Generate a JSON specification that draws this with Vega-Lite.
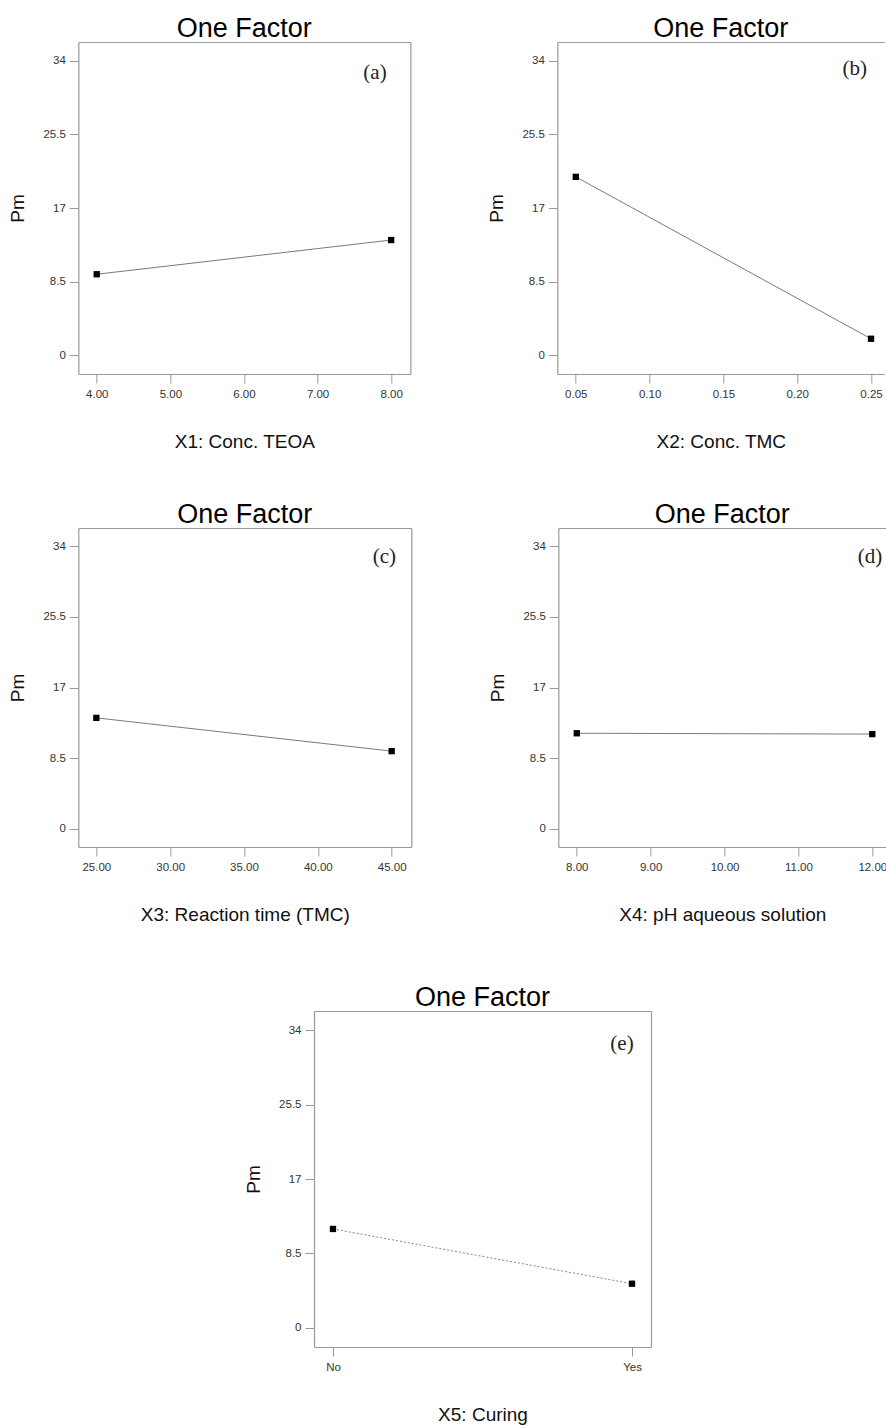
{
  "$schema": "https://vega.github.io/schema/vega-lite/v6.json",
  "background": "white",
  "padding": {"left": 8, "top": 15, "right": 0, "bottom": 0},
  "datasets": {
    "x1": [{"level": 4, "Pm": 9.35}, {"level": 8, "Pm": 13.3}],
    "x2": [{"level": 0.05, "Pm": 20.6}, {"level": 0.25, "Pm": 1.9}],
    "x3": [{"level": 25, "Pm": 13.35}, {"level": 45, "Pm": 9.35}],
    "x4": [{"level": 8, "Pm": 11.5}, {"level": 12, "Pm": 11.4}],
    "x5": [{"level": "No", "Pm": 11.3}, {"level": "Yes", "Pm": 5.05}]
  },
  "spacing": 59,
  "center": true,
  "vconcat": [
    {
      "spacing": 49,
      "vconcat": [
        {
          "spacing": 77,
          "hconcat": [
            {
              "title": "One Factor", "width": 332, "height": 332,
              "resolve": {"axis": {"x": "independent", "y": "independent"}},
              "layer": [
                {"data": {"name": "x1"}, "mark": {"type": "line", "color": "#7a7a7a", "strokeWidth": 1},
                 "encoding": {
                   "x": {"field": "level", "type": "quantitative", "scale": {"domain": [3.75, 8.26], "nice": false, "zero": false}, "axis": {"values": [4, 5, 6, 7, 8], "format": ".2f", "title": "X1: Conc. TEOA"}},
                   "y": {"field": "Pm", "type": "quantitative", "scale": {"domain": [-2.17, 36.17], "nice": false, "zero": false}, "axis": {"values": [0, 8.5, 17, 25.5, 34], "labelExpr": "'' + datum.value", "title": "Pm"}}}},
                {"data": {"name": "x1"}, "mark": {"type": "point", "shape": "square", "filled": true, "color": "#000", "size": 40, "opacity": 1},
                 "encoding": {
                   "x": {"field": "level", "type": "quantitative", "scale": {"domain": [3.75, 8.26], "nice": false, "zero": false}, "axis": null},
                   "y": {"field": "Pm", "type": "quantitative", "scale": {"domain": [-2.17, 36.17], "nice": false, "zero": false}, "axis": null}}},
                {"data": {"values": [{"panel": "(a)"}]}, "mark": {"type": "text", "font": "Liberation Serif", "fontSize": 21, "color": "#222", "baseline": "middle"},
                 "encoding": {
                   "x": {"datum": 7.78, "type": "quantitative", "scale": {"domain": [3.75, 8.26], "nice": false, "zero": false}, "axis": {"orient": "top", "labels": false, "ticks": false, "title": null}},
                   "y": {"datum": 32.6, "type": "quantitative", "scale": {"domain": [-2.17, 36.17], "nice": false, "zero": false}, "axis": {"orient": "right", "labels": false, "ticks": false, "title": null}},
                   "text": {"field": "panel"}}}
              ]
            },
            {
              "title": "One Factor", "width": 327, "height": 332,
              "resolve": {"axis": {"x": "independent", "y": "independent"}},
              "layer": [
                {"data": {"name": "x2"}, "mark": {"type": "line", "color": "#7a7a7a", "strokeWidth": 1},
                 "encoding": {
                   "x": {"field": "level", "type": "quantitative", "scale": {"domain": [0.0375, 0.259], "nice": false, "zero": false}, "axis": {"values": [0.05, 0.1, 0.15, 0.2, 0.25], "format": ".2f", "title": "X2: Conc. TMC"}},
                   "y": {"field": "Pm", "type": "quantitative", "scale": {"domain": [-2.17, 36.17], "nice": false, "zero": false}, "axis": {"values": [0, 8.5, 17, 25.5, 34], "labelExpr": "'' + datum.value", "title": "Pm"}}}},
                {"data": {"name": "x2"}, "mark": {"type": "point", "shape": "square", "filled": true, "color": "#000", "size": 40, "opacity": 1},
                 "encoding": {
                   "x": {"field": "level", "type": "quantitative", "scale": {"domain": [0.0375, 0.259], "nice": false, "zero": false}, "axis": null},
                   "y": {"field": "Pm", "type": "quantitative", "scale": {"domain": [-2.17, 36.17], "nice": false, "zero": false}, "axis": null}}},
                {"data": {"values": [{"panel": "(b)"}]}, "mark": {"type": "text", "font": "Liberation Serif", "fontSize": 21, "color": "#222", "baseline": "middle"},
                 "encoding": {
                   "x": {"datum": 0.239, "type": "quantitative", "scale": {"domain": [0.0375, 0.259], "nice": false, "zero": false}, "axis": {"orient": "top", "labels": false, "ticks": false, "title": null}},
                   "y": {"datum": 33.0, "type": "quantitative", "scale": {"domain": [-2.17, 36.17], "nice": false, "zero": false}, "axis": null},
                   "text": {"field": "panel"}}}
              ]
            }
          ]
        },
        {
          "spacing": 77,
          "hconcat": [
            {
              "title": "One Factor", "width": 333, "height": 319,
              "resolve": {"axis": {"x": "independent", "y": "independent"}},
              "layer": [
                {"data": {"name": "x3"}, "mark": {"type": "line", "color": "#7a7a7a", "strokeWidth": 1},
                 "encoding": {
                   "x": {"field": "level", "type": "quantitative", "scale": {"domain": [23.78, 46.33], "nice": false, "zero": false}, "axis": {"values": [25, 30, 35, 40, 45], "format": ".2f", "title": "X3: Reaction time (TMC)"}},
                   "y": {"field": "Pm", "type": "quantitative", "scale": {"domain": [-2.17, 36.17], "nice": false, "zero": false}, "axis": {"values": [0, 8.5, 17, 25.5, 34], "labelExpr": "'' + datum.value", "title": "Pm"}}}},
                {"data": {"name": "x3"}, "mark": {"type": "point", "shape": "square", "filled": true, "color": "#000", "size": 40, "opacity": 1},
                 "encoding": {
                   "x": {"field": "level", "type": "quantitative", "scale": {"domain": [23.78, 46.33], "nice": false, "zero": false}, "axis": null},
                   "y": {"field": "Pm", "type": "quantitative", "scale": {"domain": [-2.17, 36.17], "nice": false, "zero": false}, "axis": null}}},
                {"data": {"values": [{"panel": "(c)"}]}, "mark": {"type": "text", "font": "Liberation Serif", "fontSize": 21, "color": "#222", "baseline": "middle"},
                 "encoding": {
                   "x": {"datum": 44.5, "type": "quantitative", "scale": {"domain": [23.78, 46.33], "nice": false, "zero": false}, "axis": {"orient": "top", "labels": false, "ticks": false, "title": null}},
                   "y": {"datum": 32.7, "type": "quantitative", "scale": {"domain": [-2.17, 36.17], "nice": false, "zero": false}, "axis": {"orient": "right", "labels": false, "ticks": false, "title": null}},
                   "text": {"field": "panel"}}}
              ]
            },
            {
              "title": "One Factor", "width": 328, "height": 319,
              "resolve": {"axis": {"x": "independent", "y": "independent"}},
              "layer": [
                {"data": {"name": "x4"}, "mark": {"type": "line", "color": "#7a7a7a", "strokeWidth": 1},
                 "encoding": {
                   "x": {"field": "level", "type": "quantitative", "scale": {"domain": [7.75, 12.19], "nice": false, "zero": false}, "axis": {"values": [8, 9, 10, 11, 12], "format": ".2f", "title": "X4: pH aqueous solution"}},
                   "y": {"field": "Pm", "type": "quantitative", "scale": {"domain": [-2.17, 36.17], "nice": false, "zero": false}, "axis": {"values": [0, 8.5, 17, 25.5, 34], "labelExpr": "'' + datum.value", "title": "Pm"}}}},
                {"data": {"name": "x4"}, "mark": {"type": "point", "shape": "square", "filled": true, "color": "#000", "size": 40, "opacity": 1},
                 "encoding": {
                   "x": {"field": "level", "type": "quantitative", "scale": {"domain": [7.75, 12.19], "nice": false, "zero": false}, "axis": null},
                   "y": {"field": "Pm", "type": "quantitative", "scale": {"domain": [-2.17, 36.17], "nice": false, "zero": false}, "axis": null}}},
                {"data": {"values": [{"panel": "(d)"}]}, "mark": {"type": "text", "font": "Liberation Serif", "fontSize": 21, "color": "#222", "baseline": "middle"},
                 "encoding": {
                   "x": {"datum": 11.97, "type": "quantitative", "scale": {"domain": [7.75, 12.19], "nice": false, "zero": false}, "axis": {"orient": "top", "labels": false, "ticks": false, "title": null}},
                   "y": {"datum": 32.7, "type": "quantitative", "scale": {"domain": [-2.17, 36.17], "nice": false, "zero": false}, "axis": null},
                   "text": {"field": "panel"}}}
              ]
            }
          ]
        }
      ]
    },
    {
      "title": "One Factor", "width": 337, "height": 336,
      "resolve": {"axis": {"x": "independent", "y": "independent"}},
      "layer": [
        {"data": {"name": "x5"}, "mark": {"type": "line", "color": "#888", "strokeWidth": 1, "strokeDash": [2, 2]},
         "encoding": {
           "x": {"field": "level", "type": "nominal", "scale": {"type": "point", "domain": ["No", "Yes"], "padding": 0.0635}, "axis": {"title": "X5: Curing"}},
           "y": {"field": "Pm", "type": "quantitative", "scale": {"domain": [-2.17, 36.17], "nice": false, "zero": false}, "axis": {"values": [0, 8.5, 17, 25.5, 34], "labelExpr": "'' + datum.value", "title": "Pm"}}}},
        {"data": {"name": "x5"}, "mark": {"type": "point", "shape": "square", "filled": true, "color": "#000", "size": 40, "opacity": 1},
         "encoding": {
           "x": {"field": "level", "type": "nominal", "scale": {"type": "point", "domain": ["No", "Yes"], "padding": 0.0635}, "axis": null},
           "y": {"field": "Pm", "type": "quantitative", "scale": {"domain": [-2.17, 36.17], "nice": false, "zero": false}, "axis": null}}},
        {"data": {"values": [{"panel": "(e)"}]}, "mark": {"type": "text", "font": "Liberation Serif", "fontSize": 21, "color": "#222", "baseline": "middle", "dx": -10},
         "encoding": {
           "x": {"datum": "Yes", "type": "nominal", "scale": {"type": "point", "domain": ["No", "Yes"], "padding": 0.0635}, "axis": {"orient": "top", "labels": false, "ticks": false, "title": null}},
           "y": {"datum": 32.4, "type": "quantitative", "scale": {"domain": [-2.17, 36.17], "nice": false, "zero": false}, "axis": {"orient": "right", "labels": false, "ticks": false, "title": null}},
           "text": {"field": "panel"}}}
      ]
    }
  ],
  "config": {
    "font": "Liberation Sans",
    "view": {"stroke": null},
    "axis": {"labelFont": "Liberation Sans", "labelFontSize": 11.5, "labelColor": "#333", "tickColor": "#999", "tickSize": 9, "tickWidth": 1, "domainColor": "#999", "domainWidth": 1.2, "grid": false, "labelFlush": false, "titleFont": "Liberation Sans", "titleFontSize": 19, "titleFontWeight": "normal", "titleColor": "#111"},
    "axisX": {"labelPadding": 5, "titlePadding": 33, "labelAngle": 0},
    "axisY": {"labelPadding": 4, "titlePadding": 15},
    "title": {"font": "Liberation Sans", "fontSize": 27, "fontWeight": "normal", "color": "#000", "offset": -1, "baseline": "alphabetic"}
  }
}
